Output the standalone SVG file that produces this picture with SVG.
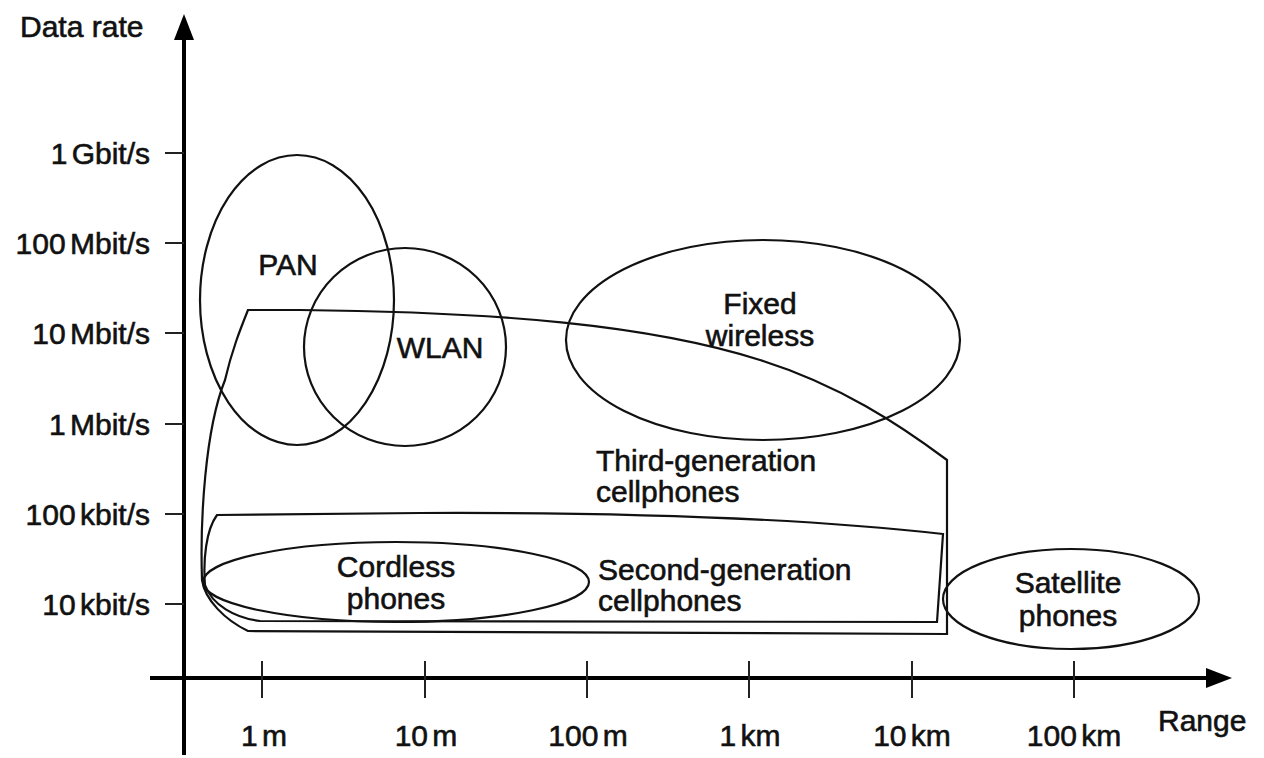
<svg xmlns="http://www.w3.org/2000/svg" width="1264" height="758" viewBox="0 0 1264 758">
<style>
text{font-family:"Liberation Sans",Arial,sans-serif;font-size:30px;fill:#111;stroke:#111;stroke-width:0.6}
.r{text-anchor:end}
.m{text-anchor:middle}
.n{word-spacing:-4px}
.ax{stroke:#000;stroke-width:4;fill:none}
.tk{stroke:#222;stroke-width:2;fill:none}
.sh{stroke:#111;stroke-width:2.2;fill:none}
</style>
<rect width="1264" height="758" fill="#fff"/>
<g id="axes">
<line class="ax" x1="184" y1="755" x2="184" y2="34"/>
<polygon points="184,14 174,40 194,40" fill="#000"/>
<line class="ax" x1="150" y1="678" x2="1210" y2="678"/>
<polygon points="1232,678 1206,668 1206,688" fill="#000"/>
<g id="yticks">
<line class="tk" x1="165" y1="153" x2="184" y2="153"/>
<line class="tk" x1="165" y1="243" x2="184" y2="243"/>
<line class="tk" x1="165" y1="333" x2="184" y2="333"/>
<line class="tk" x1="165" y1="424" x2="184" y2="424"/>
<line class="tk" x1="165" y1="514" x2="184" y2="514"/>
<line class="tk" x1="165" y1="604" x2="184" y2="604"/>
</g>
<g id="xticks">
<line class="tk" x1="262" y1="661" x2="262" y2="698"/>
<line class="tk" x1="425" y1="661" x2="425" y2="698"/>
<line class="tk" x1="587" y1="661" x2="587" y2="698"/>
<line class="tk" x1="749" y1="661" x2="749" y2="698"/>
<line class="tk" x1="912" y1="661" x2="912" y2="698"/>
<line class="tk" x1="1074" y1="661" x2="1074" y2="698"/>
</g>
<text x="20" y="37">Data rate</text>
<text class="r n" x="150" y="164">1 Gbit/s</text>
<text class="r n" x="150" y="254">100 Mbit/s</text>
<text class="r n" x="150" y="344">10 Mbit/s</text>
<text class="r n" x="150" y="435">1 Mbit/s</text>
<text class="r n" x="150" y="525">100 kbit/s</text>
<text class="r n" x="150" y="615">10 kbit/s</text>
<text class="m n" x="264" y="746">1 m</text>
<text class="m n" x="426" y="746">10 m</text>
<text class="m n" x="588" y="746">100 m</text>
<text class="m n" x="750" y="746">1 km</text>
<text class="m n" x="912" y="746">10 km</text>
<text class="m n" x="1074" y="746">100 km</text>
<text x="1158" y="731">Range</text>
</g>
<g id="third-generation">
<path class="sh" d="M248,310 L300,310 C500,312 650,325 760,360 C840,385 900,425 947,460 L947,634 L248,631 C225,620 205,600 202,580 C200,520 205,430 225,380 C232,350 240,330 248,310 Z"/>
<text x="596" y="471">Third-generation</text>
<text x="596" y="502">cellphones</text>
</g>
<g id="second-generation">
<path class="sh" d="M217,515 L420,513 C650,512 820,520 943,534 L937,622 L260,621 C235,618 212,605 205,585 C203,560 206,530 217,515 Z"/>
<text x="598" y="580">Second-generation</text>
<text x="598" y="611">cellphones</text>
</g>
<g id="pan">
<ellipse class="sh" cx="297" cy="300" rx="97" ry="145"/>
<text class="m" x="288" y="275">PAN</text>
</g>
<g id="wlan">
<ellipse class="sh" cx="405" cy="347" rx="101" ry="99"/>
<text class="m" x="440" y="358">WLAN</text>
</g>
<g id="fixed-wireless">
<ellipse class="sh" cx="763" cy="340" rx="197" ry="100"/>
<text class="m" x="760" y="314">Fixed</text>
<text class="m" x="760" y="346">wireless</text>
</g>
<g id="cordless">
<ellipse class="sh" cx="396" cy="582" rx="193" ry="40"/>
<text class="m" x="396" y="577">Cordless</text>
<text class="m" x="396" y="609">phones</text>
</g>
<g id="satellite">
<ellipse class="sh" cx="1071" cy="599" rx="128" ry="50"/>
<text class="m" x="1068" y="593">Satellite</text>
<text class="m" x="1068" y="626">phones</text>
</g>
</svg>
